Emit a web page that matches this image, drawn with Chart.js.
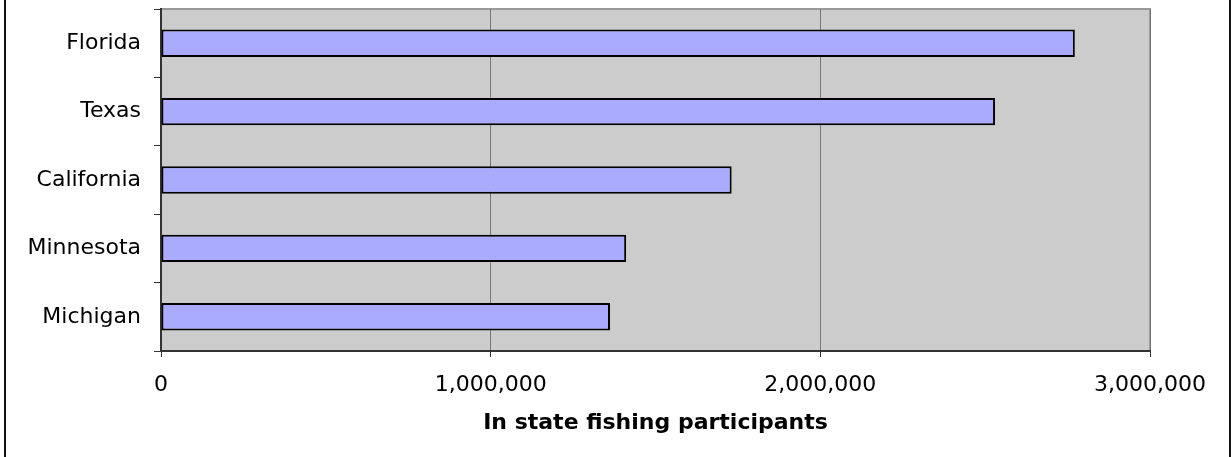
<!DOCTYPE html>
<html lang="en">
<head>
  <meta charset="UTF-8">
  <title>In state fishing participants</title>
  <style>
    body, html {
      margin: 0;
      padding: 0;
      background: #ffffff;
      overflow: hidden;
    }

    .chart-box {
      position: relative;
      width: 1231px;
      height: 457px;
    }

    /* outer frame, only the side edges are visible */
    .frame {
      position: absolute;
      left: 4px;
      top: -10px;
      width: 1223px;
      height: 473px;
      border: 2px solid #111;
      pointer-events: none;
    }
  </style>
</head>
<body>
  <div class="chart-box">
    <canvas id="myChart" width="1231" height="457"></canvas>
    <div class="frame"></div>
  </div>

  <script src="https://cdn.jsdelivr.net/npm/chart.js"></script>
  <script>
    // data
    var states = ['Florida', 'Texas', 'California', 'Minnesota', 'Michigan'];
    var participants = [2772000, 2530000, 1731000, 1411000, 1362000];
    var xTicks = [0, 1000000, 2000000, 3000000];
    var xTitle = 'In state fishing participants';

    // gray plot background with gray border
    var plotBackground = {
      id: 'plotBackground',
      beforeDraw: function (chart) {
        var a = chart.chartArea;
        var c = chart.ctx;
        c.save();
        c.fillStyle = '#cccccc';
        c.fillRect(a.left, a.top, a.right - a.left, a.bottom - a.top);
        c.strokeStyle = '#999999';
        c.lineWidth = 2;
        c.strokeRect(a.left, a.top, a.right - a.left, a.bottom - a.top);
        c.restore();
      }
    };

    Chart.defaults.font.family = "'DejaVu Sans', Verdana, sans-serif";
    Chart.defaults.font.size = 22;
    Chart.defaults.color = '#000';

    var ctx = document.getElementById('myChart').getContext('2d');
    var myChart = new Chart(ctx, {
      type: 'bar',
      data: {
        labels: states,
        datasets: [{
          data: participants,
          backgroundColor: '#aaaaff',
          borderColor: '#000',
          borderWidth: 2,
          borderSkipped: false,
          barPercentage: 0.4,
          categoryPercentage: 1.0
        }]
      },
      plugins: [plotBackground],
      options: {
        indexAxis: 'y',
        responsive: false,
        animation: false,
        layout: {
          padding: { top: 9, right: 81, bottom: 0, left: 0 }
        },
        plugins: {
          legend: { display: false },
          tooltip: { enabled: false }
        },
        scales: {
          x: {
            min: 0,
            max: 3000000,
            afterBuildTicks: function (scale) {
              scale.ticks = xTicks.map(function (v) { return { value: v }; });
            },
            afterFit: function (scale) {
              scale.height = 106;
            },
            grid: {
              color: '#777777',
              lineWidth: 1,
              tickColor: '#333',
              tickLength: 6
            },
            border: { color: '#333', width: 2 },
            ticks: {
              padding: 15,
              maxRotation: 0,
              callback: function (v) { return Number(v).toLocaleString('en-US'); }
            },
            title: {
              display: true,
              text: xTitle,
              font: { weight: 'bold', size: 22 },
              padding: { top: 0, bottom: 21 }
            }
          },
          y: {
            afterFit: function (scale) {
              scale.width = 161;
              scale.paddingTop = 0;
              scale.paddingBottom = 0;
            },
            grid: {
              drawOnChartArea: false,
              offset: true,
              tickColor: '#333',
              tickLength: 7
            },
            border: { color: '#333', width: 2 },
            ticks: {
              padding: 13
            }
          }
        }
      }
    });
  </script>
</body>
</html>
